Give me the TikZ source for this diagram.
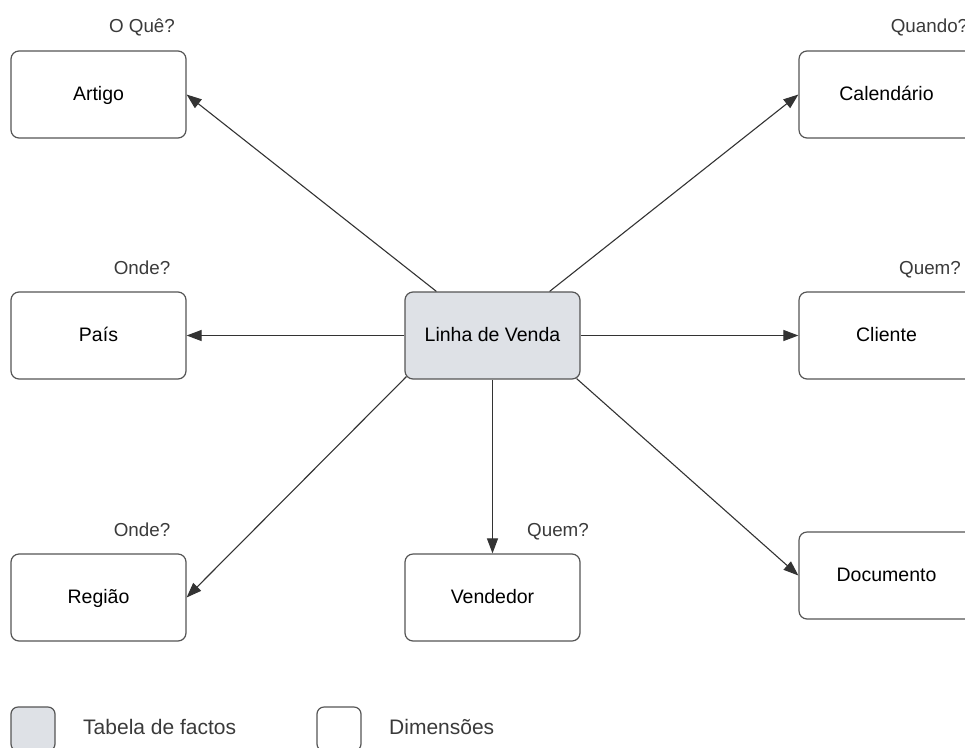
\documentclass[tikz,border=0pt]{standalone}
\usepackage{fontspec}
\setmainfont{Liberation Sans}
\usetikzlibrary{arrows.meta}
\definecolor{factfill}{RGB}{222,225,230}
\definecolor{edgegray}{RGB}{85,85,85}
\definecolor{linkgray}{RGB}{51,51,51}
\definecolor{notegray}{RGB}{58,58,58}
\begin{document}
\begin{tikzpicture}[x=1pt,y=-1pt,
  tablebox/.style={draw=edgegray,line width=1.2pt,rounded corners=8pt,
    minimum width=175pt,minimum height=87pt,inner sep=0pt,
    text height=14pt,text depth=3pt,
    font=\fontsize{19.5}{22}\selectfont,text=black},
  facttable/.style={tablebox,fill=factfill},
  dimtable/.style={tablebox,fill=white},
  question/.style={font=\fontsize{18.8}{22}\selectfont,text=notegray,inner sep=0pt,
    text height=14pt,text depth=3pt},
  legendbox/.style={draw=edgegray,line width=1.2pt,rounded corners=7pt,
    minimum width=44pt,minimum height=44pt,inner sep=0pt},
  legendtext/.style={font=\fontsize{21}{24}\selectfont,text=notegray,inner sep=0pt,anchor=west,
    text height=15pt,text depth=3pt},
  link/.style={draw=linkgray,line width=1.1pt,
    -{Triangle[length=15pt,width=11pt]}}]
\useasboundingbox (0,0) rectangle (965,747);
\clip (0,0) rectangle (965,747);

% fact table in the middle
\node[facttable] (linha) at (492.5,335.5) {Linha de Venda};

% dimension tables
\node[dimtable] (artigo)     at (98.5,94.5)   {Artigo};
\node[dimtable] (pais)       at (98.5,335.5)  {País};
\node[dimtable] (regiao)     at (98.5,597.5)  {Região};
\node[dimtable] (vendedor)   at (492.5,597.5) {Vendedor};
\node[dimtable] (calendario) at (886.5,94.5)  {Calendário};
\node[dimtable] (cliente)    at (886.5,335.5) {Cliente};
\node[dimtable] (documento)  at (886.5,575.5) {Documento};

% questions answered by each dimension
\node[question] (qartigo)   at (142,26.5)   {O Quê?};
\node[question] (qpais)     at (142,268.5)  {Onde?};
\node[question] (qregiao)   at (142,530.5)  {Onde?};
\node[question] (qvendedor) at (558,530.5)  {Quem?};
\node[question] (qcal)      at (929.5,26.5) {Quando?};
\node[question] (qcliente)  at (930,268.5)  {Quem?};

% links from the fact table to the dimensions
\draw[link] ([xshift=32pt]linha.north west) -- (artigo.east);
\draw[link] ([xshift=-31pt]linha.north east) -- (calendario.west);
\draw[link] (linha.west) -- (pais.east);
\draw[link] (linha.east) -- (cliente.west);
\draw[link] ([xshift=2pt,yshift=3pt]linha.south west) -- (regiao.east);
\draw[link] (linha.south) -- (vendedor.north);
\draw[link] ([xshift=-4pt,yshift=1pt]linha.south east) -- (documento.west);

% legend
\node[legendbox,fill=factfill] (legfact) at (33,729) {};
\node[legendtext] (legfacttext) at (83,728.5) {Tabela de factos};
\node[legendbox,fill=white] (legdim) at (339,729) {};
\node[legendtext] (legdimtext) at (389,728.5) {Dimensões};
\end{tikzpicture}
\end{document}
